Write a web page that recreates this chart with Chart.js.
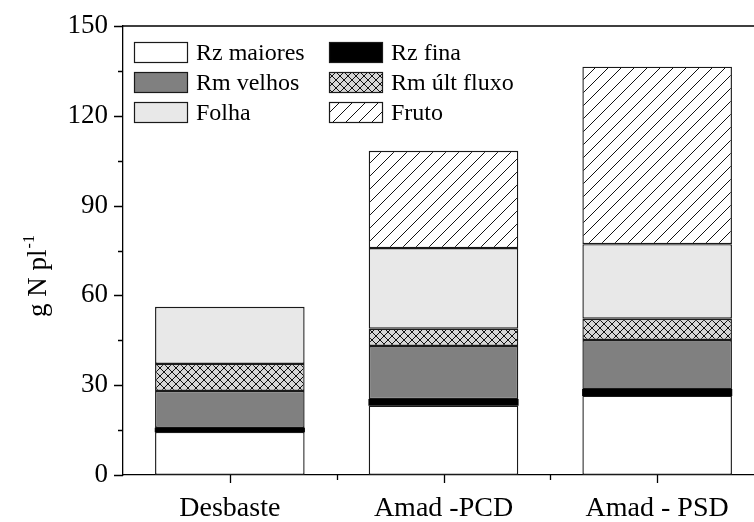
<!DOCTYPE html>
<html>
<head>
<meta charset="utf-8">
<script src="https://cdn.jsdelivr.net/npm/chart.js@4.4.1/dist/chart.umd.min.js"></script>
<style>
  html, body { margin: 0; padding: 0; background: #fff; overflow: hidden; }
  #wrap { width: 800px; height: 522px; }
</style>
</head>
<body>
<div id="wrap"><canvas id="chart"></canvas></div>
<script>
const categories = ['Desbaste', 'Amad -PCD', 'Amad - PSD'];
const rzMaiores = [14.4, 23.2, 26.5];
const rzFina = [1.3, 2.1, 2.1];
const rmVelhos = [12.4, 17.8, 16.5];
const rmUltFluxo = [9.0, 5.8, 7.1];
const folha = [19.1, 26.9, 24.9];
const fruto = [0, 32.5, 59.3];
const yTicks = [0, 30, 60, 90, 120, 150];

const FONT = '"Liberation Serif", "Times New Roman", serif';

function crossPattern() {
    const c = document.createElement('canvas');
    c.width = 8; c.height = 8;
    const g = c.getContext('2d');
    g.fillStyle = '#d6d6d6';
    g.fillRect(0, 0, 8, 8);
    g.strokeStyle = '#111';
    g.lineWidth = 1;
    g.beginPath();
    g.moveTo(0, 0); g.lineTo(8, 8);
    g.moveTo(0, 8); g.lineTo(8, 0);
    g.stroke();
    return g.createPattern(c, 'repeat');
}

function hatchPattern() {
    const s = 13;
    const c = document.createElement('canvas');
    c.width = s; c.height = s;
    const g = c.getContext('2d');
    g.fillStyle = '#fff';
    g.fillRect(0, 0, s, s);
    g.strokeStyle = '#111';
    g.lineWidth = 1;
    g.beginPath();
    g.moveTo(-1, s + 1); g.lineTo(s + 1, -1);
    g.moveTo(-1, 1); g.lineTo(1, -1);
    g.moveTo(s - 1, s + 1); g.lineTo(s + 1, s - 1);
    g.stroke();
    return g.createPattern(c, 'repeat');
}

const seriesNames = ['Rz maiores', 'Rz fina', 'Rm velhos', 'Rm \u00falt fluxo', 'Folha', 'Fruto'];
const seriesData = [rzMaiores, rzFina, rmVelhos, rmUltFluxo, folha, fruto];
const seriesFill = ['#ffffff', '#000000', '#808080', crossPattern(), '#e8e8e8', hatchPattern()];

const datasets = seriesNames.map((name, i) => ({
    label: name,
    data: seriesData[i],
    backgroundColor: seriesFill[i],
    borderColor: '#1a1a1a',
    borderWidth: i === 1 ? 0 : 1.4,
    inflateAmount: i === 1 ? 0.3 : 0,
    borderSkipped: false,
    barPercentage: 0.7,
    categoryPercentage: 1.0
}));

// ticks, frame, legend and y title drawn by hand
const decor = {
    id: 'decor',
    afterDraw(chart) {
        const ctx = chart.ctx;
        const area = chart.chartArea;
        const x = chart.scales.x;
        const y = chart.scales.y;
        ctx.save();
        ctx.strokeStyle = '#000';
        ctx.lineWidth = 1.3;
        ctx.beginPath();
        // top frame
        ctx.moveTo(area.left, area.top);
        ctx.lineTo(area.right, area.top);
        // y ticks
        for (let v = 0; v <= 150; v += 15) {
            const py = Math.round(y.getPixelForValue(v)) + 0.5;
            const len = v % 30 === 0 ? 9 : 5;
            ctx.moveTo(area.left - len, py);
            ctx.lineTo(area.left, py);
        }
        // x ticks
        for (let i = 0; i < categories.length; i++) {
            const px = Math.round(x.getPixelForValue(i)) + 0.5;
            ctx.moveTo(px, area.bottom);
            ctx.lineTo(px, area.bottom + 8);
            const bx = Math.round(x.getPixelForValue(i + 0.5)) + 0.5;
            ctx.moveTo(bx, area.bottom);
            ctx.lineTo(bx, area.bottom + 5);
        }
        ctx.stroke();

        // legend, two columns
        ctx.font = '24px ' + FONT;
        ctx.textBaseline = 'middle';
        ctx.textAlign = 'left';
        chart.data.datasets.forEach((ds, i) => {
            const col = i % 2;
            const row = Math.floor(i / 2);
            const bx = area.left + 11 + col * 195;
            const by = area.top + 16 + row * 30;
            ctx.fillStyle = ds.backgroundColor;
            ctx.fillRect(bx, by, 54, 21);
            ctx.lineWidth = 1.2;
            ctx.strokeStyle = '#1a1a1a';
            ctx.strokeRect(bx + 0.5, by + 0.5, 53, 20);
            ctx.fillStyle = '#000';
            ctx.fillText(ds.label, bx + 62, by + 11.5);
        });

        // y title with superscript
        ctx.translate(46, (area.top + area.bottom) / 2 + 26);
        ctx.rotate(-Math.PI / 2);
        ctx.textBaseline = 'alphabetic';
        ctx.font = '27px ' + FONT;
        const main = 'g N pl';
        const w1 = ctx.measureText(main).width;
        ctx.font = '16px ' + FONT;
        const w2 = ctx.measureText('-1').width;
        const start = -(w1 + w2) / 2;
        ctx.font = '27px ' + FONT;
        ctx.fillText(main, start, 0);
        ctx.font = '16px ' + FONT;
        ctx.fillText('-1', start + w1 + 1, -12);
        ctx.restore();
    }
};

new Chart(document.getElementById('chart'), {
    type: 'bar',
    data: { labels: categories, datasets: datasets },
    options: {
        responsive: true,
        maintainAspectRatio: false,
        animation: false,
        layout: { padding: { left: 0, top: 26, right: 36, bottom: 0 } },
        plugins: { legend: { display: false }, tooltip: { enabled: false } },
        scales: {
            x: {
                stacked: true,
                grid: { display: false, drawTicks: false },
                border: { display: true, color: '#000', width: 1.3 },
                ticks: { color: '#000', font: { family: FONT, size: 28 }, padding: 17 },
                afterFit(scale) {
                    scale.height = 47;
                    scale.paddingLeft = 0;
                    scale.paddingRight = 0;
                }
            },
            y: {
                stacked: true,
                min: 0,
                max: 150,
                grid: { display: false, drawTicks: false },
                border: { display: true, color: '#000', width: 1.3 },
                afterBuildTicks(scale) { scale.ticks = yTicks.map(v => ({ value: v })); },
                ticks: { color: '#000', font: { family: FONT, size: 27 }, padding: 15 },
                afterFit(scale) {
                    scale.width = 123;
                    scale.paddingTop = 0;
                    scale.paddingBottom = 0;
                }
            }
        }
    },
    plugins: [decor]
});
</script>
</body>
</html>
